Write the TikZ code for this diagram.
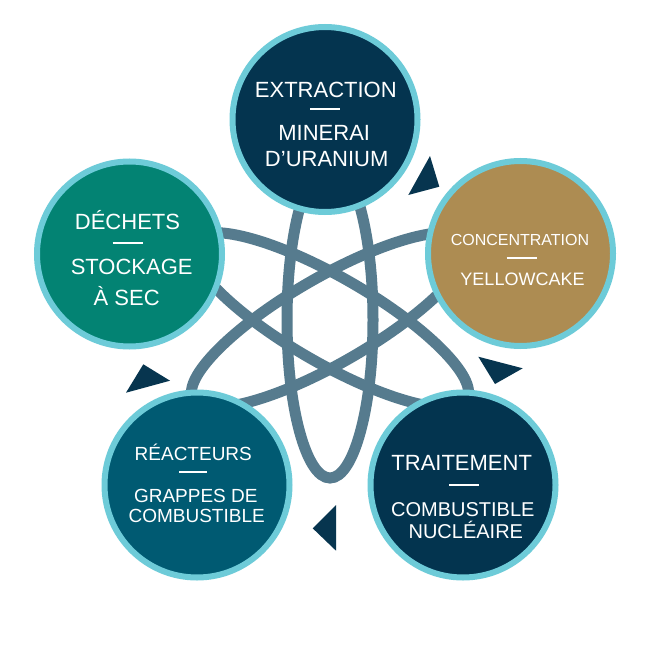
\documentclass[tikz,border=0pt]{standalone}
\usepackage{fontspec}
\setmainfont{Liberation Sans}
\definecolor{ring}{HTML}{6DCBD8}
\definecolor{navyA}{HTML}{04344F}
\definecolor{gold}{HTML}{AD8C52}
\definecolor{navyB}{HTML}{03344F}
\definecolor{tealB}{HTML}{005A72}
\definecolor{greenA}{HTML}{038373}
\definecolor{atomc}{HTML}{567B8E}
\definecolor{tric}{HTML}{07354F}
\tikzset{
  stage/.style={circle, draw=ring, line width=6pt, minimum size=185pt, inner sep=0pt, outer sep=0pt},
  orbit/.style={draw=atomc, line width=11pt},
  tri/.style={fill=tric},
  lbl/.style={text=white, anchor=base, inner sep=0pt},
  sep/.style={draw=white, line width=2pt}
}
\begin{document}
\begin{tikzpicture}[x=1pt,y=-1pt]
\useasboundingbox (0,0) rectangle (650,650);
\fill[white] (0,0) rectangle (650,650);
% atom
\coordinate (core) at (330,320);
\draw[orbit] (core) ellipse [x radius=43, y radius=158];
\draw[orbit, rotate around={60:(core)}] (core) ellipse [x radius=43, y radius=158];
\draw[orbit, rotate around={-60:(core)}] (core) ellipse [x radius=43, y radius=158];
% stages
\node[stage, fill=navyA] (ext) at (325,119.5) {};
\node[stage, fill=gold] (con) at (520.5,253.5) {};
\node[stage, fill=navyB] (tra) at (463,485) {};
\node[stage, fill=tealB] (rea) at (197,485) {};
\node[stage, fill=greenA] (dec) at (129.5,254) {};
% arrows
\fill[tri] (430,156) -- (439.3,186.7) -- (408.3,195) -- cycle;
\fill[tri] (478.3,356.7) -- (522.7,368.3) -- (495,384) -- cycle;
\fill[tri] (336,505) -- (336,550.7) -- (312.7,528.3) -- cycle;
\fill[tri] (143.3,364.3) -- (170,380.7) -- (126,392.7) -- cycle;
% texts: extraction
\node[lbl, font=\fontsize{22}{22}\selectfont] (t1a) at (325.8,97.7) {EXTRACTION};
\draw[sep] (310,109.3) -- (340,109.3);
\node[lbl, font=\fontsize{22}{22}\selectfont] (t1b) at (324.2,140) {MINERAI};
\node[lbl, font=\fontsize{22}{22}\selectfont] (t1c) at (326.7,166.7) {D’URANIUM};
% concentration
\node[lbl, font=\fontsize{16}{16}\selectfont] (t2a) at (520,245) {CONCENTRATION};
\draw[sep] (506.7,257.7) -- (536.7,257.7);
\node[lbl, font=\fontsize{18}{18}\selectfont] (t2b) at (522.5,285) {YELLOWCAKE};
% traitement
\node[lbl, font=\fontsize{22}{22}\selectfont] (t3a) at (461.7,470) {TRAITEMENT};
\draw[sep] (449,485) -- (479,485);
\node[lbl, font=\fontsize{20}{20}\selectfont] (t3b) at (462.8,516) {COMBUSTIBLE};
\node[lbl, font=\fontsize{20}{20}\selectfont] (t3c) at (465.8,538) {NUCLÉAIRE};
% reacteurs
\node[lbl, font=\fontsize{19}{19}\selectfont] (t4a) at (193.3,460) {RÉACTEURS};
\draw[sep] (179,472.3) -- (207,472.3);
\node[lbl, font=\fontsize{19}{19}\selectfont] (t4b) at (195.8,502) {GRAPPES DE};
\node[lbl, font=\fontsize{19}{19}\selectfont] (t4c) at (196.7,522) {COMBUSTIBLE};
% dechets
\node[lbl, font=\fontsize{22}{22}\selectfont] (t5a) at (127.5,229) {DÉCHETS};
\draw[sep] (112.7,242.7) -- (142.7,242.7);
\node[lbl, font=\fontsize{22}{22}\selectfont] (t5b) at (131.7,274) {STOCKAGE};
\node[lbl, font=\fontsize{22}{22}\selectfont] (t5c) at (126.7,305) {À SEC};
\end{tikzpicture}
\end{document}
